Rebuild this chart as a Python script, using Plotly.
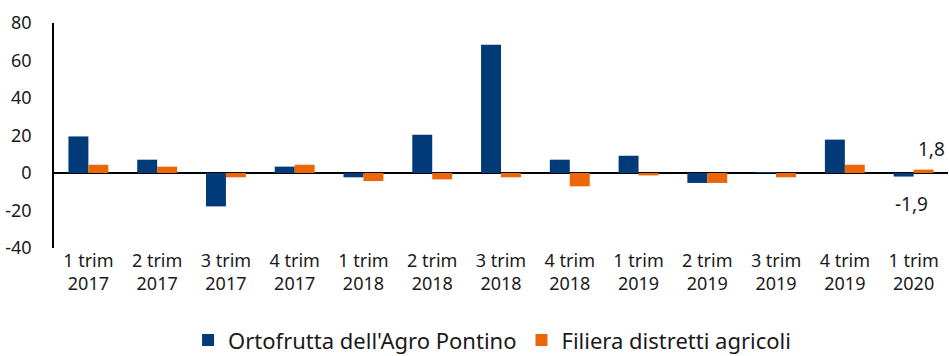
import plotly.graph_objects as go

categories = ["1 trim<br>2017", "2 trim<br>2017", "3 trim<br>2017", "4 trim<br>2017",
              "1 trim<br>2018", "2 trim<br>2018", "3 trim<br>2018", "4 trim<br>2018",
              "1 trim<br>2019", "2 trim<br>2019", "3 trim<br>2019", "4 trim<br>2019",
              "1 trim<br>2020"]
agro_pontino = [19.5, 7.1, -17.8, 3.4, -2.3, 20.4, 68.4, 7.1, 9.2, -5.3, 0.5, 17.8, -1.9]
filiera = [4.4, 3.4, -2.3, 4.4, -4.3, -3.4, -2.3, -7.1, -1.3, -5.3, -2.3, 4.4, 1.8]
series_names = ["Ortofrutta dell'Agro Pontino", "Filiera distretti agricoli"]
y_tick_vals = [-40, -20, 0, 20, 40, 60, 80]
y_tick_labels = ["-40", "-20", "0", "20", "40", "60", "80"]
colors = ["#003A78", "#EC6608"]

font_family = "Noto Sans"
text_color = "#1a1a1a"

fig = go.Figure()
fig.add_trace(go.Bar(x=categories, y=agro_pontino, name=series_names[0],
                     marker=dict(color=colors[0], line=dict(width=0))))
fig.add_trace(go.Bar(x=categories, y=filiera, name=series_names[1],
                     marker=dict(color=colors[1], line=dict(width=0))))

fig.add_annotation(x=categories[-1], y=filiera[-1], text="1,8",
                   showarrow=False, xshift=18, yshift=21,
                   font=dict(size=19, color=text_color, family=font_family))
fig.add_annotation(x=categories[-1], y=agro_pontino[-1], text="-1,9",
                   showarrow=False, xshift=-2, yshift=-27,
                   font=dict(size=19, color=text_color, family=font_family))

fig.update_layout(
    width=949, height=356,
    margin=dict(l=54, r=1, t=23, b=108, autoexpand=False),
    paper_bgcolor="white", plot_bgcolor="white",
    barmode="group", bargap=0.42, bargroupgap=0,
    font=dict(family=font_family, size=18, color=text_color),
    showlegend=True,
    legend=dict(orientation="h", x=0.49, xanchor="center", y=-0.41, yanchor="middle",
                font=dict(size=22), itemwidth=30, traceorder="normal"),
    xaxis=dict(showgrid=False, showline=False, ticks="", tickfont=dict(size=18),
               zeroline=False),
    yaxis=dict(range=[-40, 80], tickvals=y_tick_vals, ticktext=y_tick_labels,
               showgrid=False, showline=True,
               linecolor="black", linewidth=1.5, ticks="",
               zeroline=True, zerolinecolor="black", zerolinewidth=1.5,
               tickfont=dict(size=18), ticklabelstandoff=17),
)

fig.write_html("out.html")
